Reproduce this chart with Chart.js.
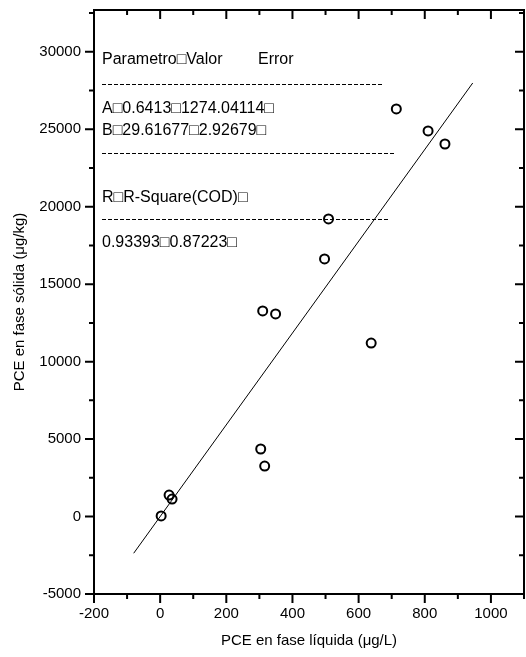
<!DOCTYPE html>
<html>
<head>
<meta charset="utf-8">
<script src="https://cdn.jsdelivr.net/npm/chart.js@4"></script>
<style>
  html, body { margin: 0; padding: 0; background: #fff; }
  #wrap { width: 526px; height: 657px; }
</style>
</head>
<body>
<div id="wrap"><canvas id="c" width="526" height="657"></canvas></div>
<script>
// PCE data, liquid (ug/L) vs solid (ug/kg)
const liquid = [3, 27, 36, 304, 316, 310, 349, 497, 509, 638, 714, 810, 861];
const solid = [40, 1390, 1130, 4360, 3260, 13270, 13080, 16630, 19210, 11200, 26310, 24890, 24050];

// linear fit Y = A + B*X
const fitA = 0.6413;
const fitB = 29.61677;
const fitRange = [-80, 945];

// tick labels
const xTicks = [-200, 0, 200, 400, 600, 800, 1000];
const yTicks = [-5000, 0, 5000, 10000, 15000, 20000, 25000, 30000];
const xTitle = 'PCE en fase líquida (μg/L)';
const yTitle = 'PCE en fase sólida (μg/kg)';

// stats box text
const statsLines = [
    ['Parametro\u25A1Valor', 'Error'],
    ['A\u25A10.6413\u25A11274.04114\u25A1'],
    ['B\u25A129.61677\u25A12.92679\u25A1'],
    ['R\u25A1R-Square(COD)\u25A1'],
    ['0.93393\u25A10.87223\u25A1']
];

const xMin = -200, xMax = 1100, xMinor = 100;
const yMin = -5000, yMax = 32700, yMinor = 2500;

const FONT = '"Liberation Sans", Arial, sans-serif';

// frame, ticks, labels and text box
const framePlugin = {
    id: 'frame',
    afterDraw(chart) {
        const ctx = chart.ctx;
        const a = chart.chartArea;
        const xs = chart.scales.x, ys = chart.scales.y;
        ctx.save();
        ctx.strokeStyle = '#000';
        ctx.lineWidth = 2;
        ctx.strokeRect(a.left, a.top, a.right - a.left, a.bottom - a.top);

        ctx.beginPath();
        for (let v = xMin; v <= xMax; v += xMinor) {
            const px = xs.getPixelForValue(v);
            const major = xTicks.includes(v);
            ctx.moveTo(px, a.bottom);
            ctx.lineTo(px, a.bottom + (major ? 9 : 5));
            ctx.moveTo(px, a.top);
            ctx.lineTo(px, a.top + (major ? 9 : 5));
        }
        for (let v = yMin; v <= yMax; v += yMinor) {
            const py = ys.getPixelForValue(v);
            const major = yTicks.includes(v);
            ctx.moveTo(a.left, py);
            ctx.lineTo(a.left - (major ? 9 : 5), py);
            ctx.moveTo(a.right, py);
            ctx.lineTo(a.right - (major ? 9 : 5), py);
        }
        ctx.stroke();

        ctx.fillStyle = '#000';
        ctx.font = '15px ' + FONT;
        ctx.textBaseline = 'middle';
        ctx.textAlign = 'center';
        xTicks.forEach(v => ctx.fillText(String(v), xs.getPixelForValue(v), a.bottom + 20));
        ctx.textAlign = 'right';
        yTicks.forEach(v => ctx.fillText(String(v), a.left - 13, ys.getPixelForValue(v)));

        // axis titles
        ctx.textAlign = 'center';
        ctx.fillText(xTitle, (a.left + a.right) / 2, 641);
        ctx.save();
        ctx.translate(20, (a.top + a.bottom) / 2);
        ctx.rotate(-Math.PI / 2);
        ctx.fillText(yTitle, 0, 0);
        ctx.restore();

        // stats text
        ctx.textAlign = 'left';
        ctx.font = '16px ' + FONT;
        const rowsY = [60, 109, 131, 198, 243];
        statsLines.forEach((row, i) => {
            ctx.fillText(row[0], 102, rowsY[i]);
            if (row[1]) ctx.fillText(row[1], 258, rowsY[i]);
        });
        ctx.lineWidth = 1;
        ctx.setLineDash([4, 2]);
        [[84, 384], [153, 396], [219, 390]].forEach(([y, x2]) => {
            ctx.beginPath();
            ctx.moveTo(102, y + 0.5);
            ctx.lineTo(x2, y + 0.5);
            ctx.stroke();
        });
        ctx.restore();
    }
};

const points = liquid.map((x, i) => ({ x, y: solid[i] }));
const fitLine = fitRange.map(x => ({ x, y: fitA + fitB * x }));

new Chart(document.getElementById('c'), {
    type: 'scatter',
    data: {
        datasets: [
            {
                data: points,
                pointStyle: 'circle',
                pointRadius: 4.5,
                pointBorderWidth: 2,
                pointBorderColor: '#000',
                pointBackgroundColor: 'rgba(0,0,0,0)',
                pointHoverRadius: 4.5
            },
            {
                type: 'line',
                data: fitLine,
                borderColor: '#000',
                borderWidth: 1,
                pointRadius: 0,
                fill: false
            }
        ]
    },
    options: {
        responsive: false,
        animation: false,
        layout: { autoPadding: false, padding: { left: 0, right: 2, top: 10, bottom: 0 } },
        plugins: { legend: { display: false }, tooltip: { enabled: false } },
        scales: {
            x: {
                type: 'linear',
                min: xMin,
                max: xMax,
                grid: { display: false },
                border: { display: false },
                ticks: { display: false },
                afterFit(s) { s.height = 63; }
            },
            y: {
                type: 'linear',
                min: yMin,
                max: yMax,
                grid: { display: false },
                border: { display: false },
                ticks: { display: false },
                afterFit(s) { s.width = 94; }
            }
        }
    },
    plugins: [framePlugin]
});
</script>
</body>
</html>
